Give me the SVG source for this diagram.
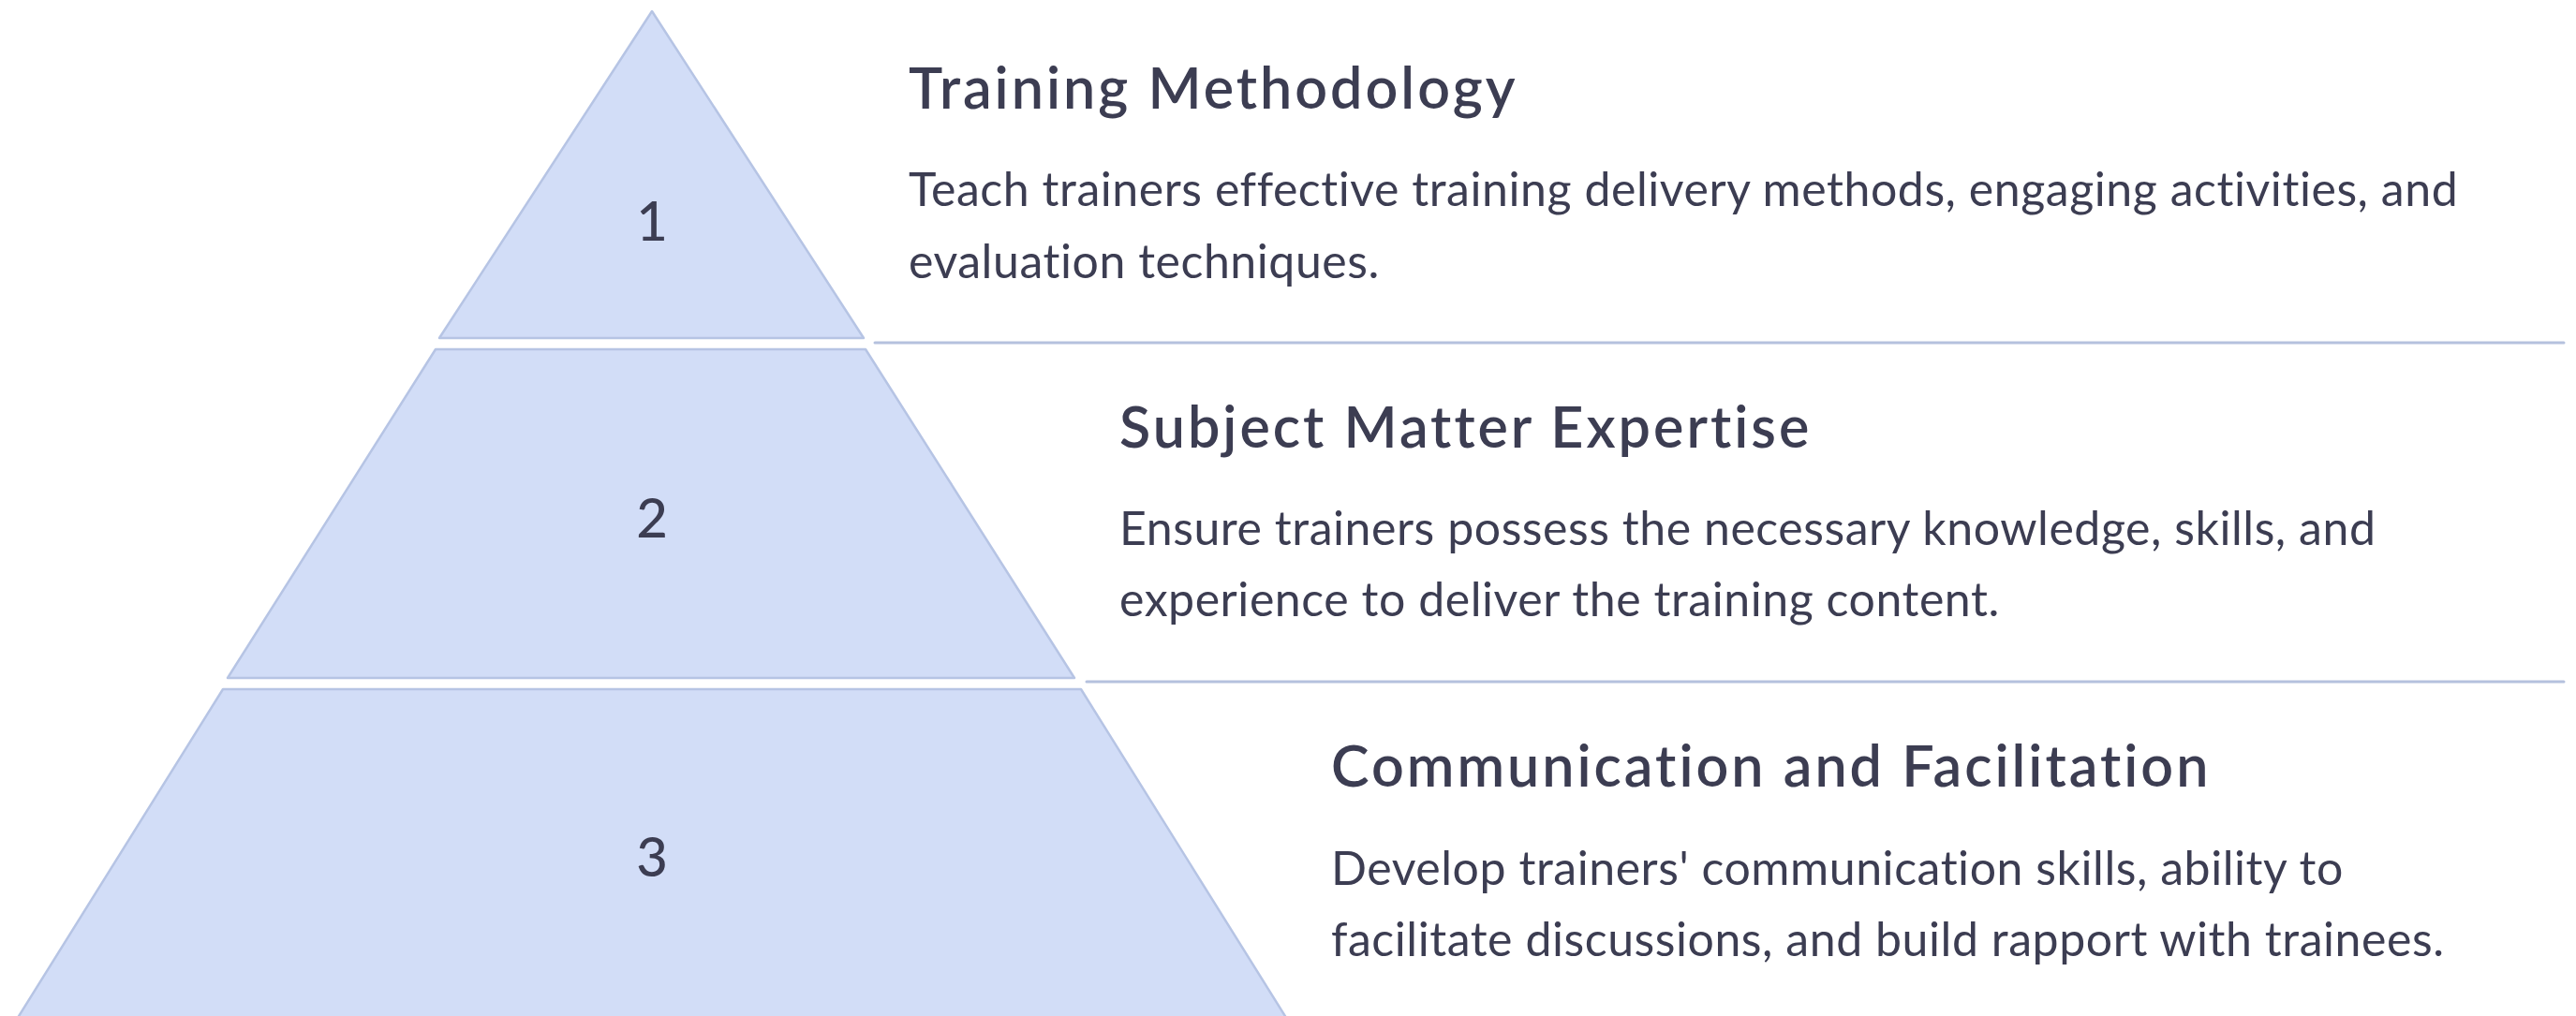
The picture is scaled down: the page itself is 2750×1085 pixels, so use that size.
<svg xmlns="http://www.w3.org/2000/svg" width="2750" height="1085" viewBox="0 0 2750 1085">
  <style>
    text { font-variant-ligatures: none; font-family: Lato, "Liberation Sans", sans-serif; fill: #3c3d52; }
    .tier { fill: #d2ddf7; stroke: #b6c4e4; stroke-width: 2.5; stroke-linejoin: round; }
    .num { font-size: 58px; font-weight: 500; text-anchor: middle; }
    .title { font-size: 61px; font-weight: 600; letter-spacing: 3px; }
    .body { font-size: 50px; font-weight: 400; letter-spacing: 0.55px; }
    .rule { stroke: #b5c1de; stroke-width: 3; stroke-linecap: round; fill: none; }
  </style>
  <rect width="2750" height="1085" fill="#ffffff"/>

  <g id="connectors">
    <line class="rule" x1="934" y1="366" x2="2737" y2="366"/>
    <line class="rule" x1="1160" y1="728" x2="2737" y2="728"/>
  </g>

  <g id="tier-1">
    <polygon class="tier" points="696,12 922,361 469,361"/>
    <text class="num" x="696" y="257">1</text>
    <text class="title" x="970" y="116">Training Methodology</text>
    <text class="body" x="970" y="220">Teach trainers effective training delivery methods, engaging activities, and</text>
    <text class="body" x="970" y="297">evaluation techniques.</text>
  </g>

  <g id="tier-2">
    <polygon class="tier" points="465,373 924,373 1147,724 243,724"/>
    <text class="num" x="696" y="574">2</text>
    <text class="title" x="1195" y="478">Subject Matter Expertise</text>
    <text class="body" x="1195" y="582">Ensure trainers possess the necessary knowledge, skills, and</text>
    <text class="body" x="1195" y="658">experience to deliver the training content.</text>
  </g>

  <g id="tier-3">
    <polygon class="tier" points="238,736 1154,736 1375,1090 17,1090"/>
    <text class="num" x="696" y="936">3</text>
    <text class="title" x="1421" y="840">Communication and Facilitation</text>
    <text class="body" x="1421" y="945">Develop trainers' communication skills, ability to</text>
    <text class="body" x="1421" y="1021">facilitate discussions, and build rapport with trainees.</text>
  </g>
</svg>
